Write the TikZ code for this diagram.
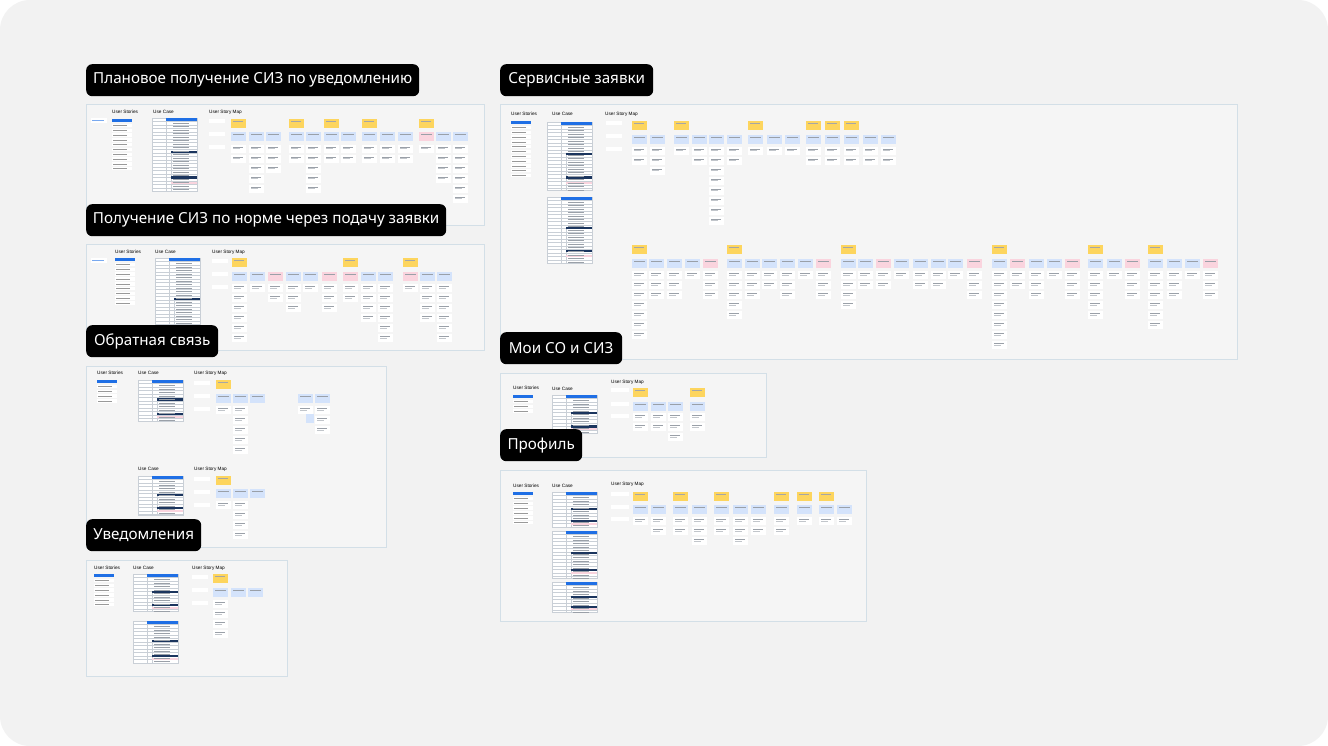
\documentclass[tikz,border=0pt]{standalone}
\usepackage{fontspec}
\newfontfamily\labfont{Noto Sans}
\newfontfamily\hdfont{Liberation Sans}
\definecolor{bg}{HTML}{F2F2F2}
\definecolor{frfill}{HTML}{F5F5F5}
\definecolor{frline}{HTML}{D3DFE7}
\definecolor{cyel}{HTML}{FDD55E}
\definecolor{cb}{HTML}{D4E3FB}
\definecolor{cp}{HTML}{FAD4DE}
\definecolor{tblue}{HTML}{1F6FE5}
\definecolor{tdark}{HTML}{1B355E}
\definecolor{tline}{HTML}{C9CFD6}
\definecolor{txt}{HTML}{9AA0A8}
\tikzset{
  lab/.style={fill=black, text=white, rounded corners=6pt, minimum height=32pt, inner sep=0pt, anchor=north west, font=\labfont\fontsize{15.2}{17}\selectfont},
  frame/.style={draw=frline, fill=frfill, line width=1pt, inner sep=0pt, anchor=north west},
  hd/.style={anchor=west, inner sep=0pt, font=\hdfont\fontsize{4.7}{5}\selectfont, text=black}
}
\newcommand{\yel}[2]{\foreach \x in {#2} {\fill[cyel] (\x,#1) rectangle ++(15,9); \fill[black!35] (\x+1.5,#1+2) rectangle ++(10,0.6);}}
\newcommand{\blu}[2]{\foreach \x/\c in {#2} {\fill[\c] (\x,#1) rectangle ++(15,9); \fill[txt] (\x+1.5,#1+2) rectangle ++(11,0.5);}}
\newcommand{\cards}[2]{\foreach \x/\n in {#2} {\foreach \k in {1,...,\n} {\fill[white] (\x,#1+10*\k-10) rectangle ++(15,8); \fill[txt] (\x+1.5,#1+10*\k-8) rectangle ++(10,0.5); \fill[txt!60] (\x+1.5,#1+10*\k-6.5) rectangle ++(7,0.5);}}}
\newcommand{\rowlab}[2]{\foreach \d in {0,13,26} {\fill[white] (#1,#2+\d) rectangle ++(16,4);}}
\newcommand{\ustor}[3]{\fill[tblue] (#1,#2) rectangle ++(20,3); \foreach \k in {1,...,#3} {\fill[white] (#1,#2+4.8*\k) rectangle ++(20,3.5); \fill[black!40] (#1+1,#2+4.8*\k+1.5) rectangle ++(14,0.5);}}
\newcommand{\uctab}[3]{%
  \begin{scope}[shift={(#1,#2)}]
    \fill[white] (0,0) rectangle (45,#3);
    \foreach \r in {0,3.5,...,#3} {\draw[tline, line width=0.3pt] (0,\r) -- (45,\r);}
    \draw[tline, line width=0.3pt] (14,0) -- (14,#3) (19,0.45*#3) -- (19,#3) (0,0) rectangle (45,#3);
    \fill[tblue] (14,0) rectangle (45,2.6);
    \fill[tdark] (19,0.45*#3) rectangle (45,0.45*#3+2.2);
    \fill[tdark] (19,0.8*#3) rectangle (45,0.8*#3+2.2);
    \fill[cp] (19,0.88*#3) rectangle (45,0.88*#3+2);
    \foreach \r in {5,8.5,...,#3} {\fill[txt] (21,\r) rectangle ++(16,0.4);}
  \end{scope}}
\begin{document}
\begin{tikzpicture}[x=1pt,y=-1pt]
\useasboundingbox (0,0) rectangle (1328,746);
\fill[white] (0,0) rectangle (1328,746);
\fill[bg, rounded corners=30pt] (0,0) rectangle (1328,746);

% ---------- frames ----------
\node[frame, minimum width=398pt, minimum height=121pt] (f1) at (86,104) {};
\node[frame, minimum width=398pt, minimum height=106pt] (f2) at (86,244) {};
\node[frame, minimum width=300pt, minimum height=181pt] (f3) at (86,366) {};
\node[frame, minimum width=201pt, minimum height=116pt] (f4) at (86,560) {};
\node[frame, minimum width=737pt, minimum height=255pt] (f5) at (500,104) {};
\node[frame, minimum width=266pt, minimum height=84pt] (f6) at (500,373) {};
\node[frame, minimum width=366pt, minimum height=151pt] (f7) at (500,470) {};

% ---------- frame 1 ----------
\fill[white] (91,118) rectangle ++(16,5); \fill[tblue!60] (92,120) rectangle ++(12,0.6);
\node[hd] (f1us) at (112,112) {User Stories};
\node[hd] (f1uc) at (153,112) {Use Case};
\node[hd] (f1sm) at (209,112) {User Story Map};
\ustor{112}{119}{10}
\uctab{152}{118}{73}
\rowlab{209}{119}
\yel{119}{231,289,324,362,419}
\blu{132}{231/cb,249/cb,266/cb,289/cb,306/cb,324/cb,341/cb,362/cb,380/cb,398/cb,419/cp,436/cb,453/cb}
\cards{145}{231/2,249/5,266/3,289/2,306/5,324/2,341/2,362/2,380/2,398/2,419/1,436/4,453/6}

% ---------- frame 2 ----------
\fill[white] (91,258) rectangle ++(16,5); \fill[tblue!60] (92,260) rectangle ++(12,0.6);
\node[hd] (f2us) at (115,252) {User Stories};
\node[hd] (f2uc) at (155,252) {Use Case};
\node[hd] (f2sm) at (212,252) {User Story Map};
\ustor{115}{258}{9}
\uctab{155}{258}{88}
\rowlab{212}{259}
\yel{258}{232,343,403}
\blu{272}{232/cb,250/cb,268/cp,286/cb,303/cb,322/cp,343/cp,361/cb,378/cb,403/cp,420/cb,437/cb}
\cards{284}{232/6,250/1,268/2,286/3,303/1,322/3,343/2,361/4,378/6,403/1,420/4,437/6}

% ---------- frame 3 ----------
\node[hd] (f3us) at (97,373) {User Stories};
\node[hd] (f3uc) at (138,373) {Use Case};
\node[hd] (f3sm) at (194,373) {User Story Map};
\ustor{97}{380}{4}
\uctab{138}{380}{41}
\rowlab{194}{381}
\yel{380}{216}
\blu{394}{216/cb,233/cb,250/cb,298/cb,315/cb}
\cards{406}{216/1,233/5,298/1,315/3}
\fill[cb] (306,414) rectangle ++(8,9);
\node[hd] (f3uc2) at (138,469) {Use Case};
\node[hd] (f3sm2) at (194,469) {User Story Map};
\uctab{138}{476}{39}
\rowlab{194}{477}
\yel{476}{216}
\blu{489}{216/cb,233/cb,250/cb}
\cards{501}{216/1,233/4}

% ---------- frame 4 ----------
\node[hd] (f4us) at (94,568) {User Stories};
\node[hd] (f4uc) at (133,568) {Use Case};
\node[hd] (f4sm) at (192,568) {User Story Map};
\ustor{94}{574}{6}
\uctab{133}{574}{37}
\uctab{133}{621}{42}
\rowlab{192}{575}
\yel{574}{213}
\blu{588}{213/cb,231/cb,248/cb}
\cards{600}{213/4}

% ---------- frame 5 ----------
\node[hd] (f5us) at (511,114) {User Stories};
\node[hd] (f5uc) at (552,114) {Use Case};
\node[hd] (f5sm) at (605,114) {User Story Map};
\ustor{511}{121}{11}
\uctab{547}{122}{68}
\uctab{547}{197}{66}
\rowlab{606}{121}
\yel{121}{632,674,748,806,825,844}
\blu{135}{632/cb,650/cb,674/cb,692/cb,709/cb,727/cb,748/cb,767/cb,785/cb,806/cb,825/cb,844/cb,863/cb,881/cb}
\cards{147}{632/2,650/3,674/1,692/2,709/8,727/2,748/1,767/1,785/1,806/2,825/2,844/2,863/2,881/2}
\yel{245}{632,727,841,992,1088,1148}
\blu{259}{632/cb,649/cb,667/cb,685/cb,703/cp,727/cb,745/cb,762/cb,780/cb,798/cb,816/cp,841/cb,858/cb,876/cp,894/cb,913/cb,931/cb,948/cb,967/cp,992/cb,1010/cp,1029/cb,1047/cb,1065/cp,1088/cb,1107/cb,1125/cp,1148/cb,1167/cb,1185/cb,1203/cp}
\cards{271}{632/7,649/3,667/3,685/1,703/3,727/5,745/3,762/2,780/3,798/1,816/3,841/4,858/2,876/2,894/1,913/2,931/2,948/1,967/3,992/8,1010/2,1029/3,1047/1,1065/3,1088/5,1107/1,1125/3,1148/6,1167/3,1185/1,1203/3}

% ---------- frame 6 ----------
\node[hd] (f6us) at (513,388) {User Stories};
\node[hd] (f6uc) at (552,389) {Use Case};
\node[hd] (f6sm) at (611,382) {User Story Map};
\ustor{513}{395}{3}
\uctab{552}{395}{38}
\foreach \yy in {388,402,414} {\fill[white] (611,\yy) rectangle ++(18,4);}
\yel{388}{633,690}
\blu{402}{633/cb,651/cb,668/cb,690/cb}
\cards{413}{633/2,651/2,668/3,690/2}

% ---------- frame 7 ----------
\node[hd] (f7us) at (513,486) {User Stories};
\node[hd] (f7uc) at (552,486) {Use Case};
\node[hd] (f7sm) at (611,484) {User Story Map};
\ustor{513}{492}{6}
\uctab{552}{492}{35}
\uctab{552}{531}{47}
\uctab{552}{582}{30}
\foreach \yy in {492,505,517} {\fill[white] (611,\yy) rectangle ++(18,4);}
\yel{492}{633,673,714,774,797,819}
\blu{505}{633/cb,651/cb,673/cb,692/cb,714/cb,733/cb,751/cb,774/cb,797/cb,819/cb,837/cb}
\cards{517}{633/1,651/2,673/2,692/3,714/2,733/3,751/2,774/2,797/1,819/1,837/1}

% ---------- labels ----------
\node[lab, minimum width=333pt] (l1) at (86,64) {Плановое получение СИЗ по уведомлению};
\node[lab, minimum width=360pt] (l2) at (86,204) {Получение СИЗ по норме через подачу заявки};
\node[lab, minimum width=132pt] (l3) at (86,325) {Обратная связь};
\node[lab, minimum width=115pt] (l4) at (86,519) {Уведомления};
\node[lab, minimum width=153pt] (l5) at (500,64) {Сервисные заявки};
\node[lab, minimum width=122pt] (l6) at (500,332) {Мои СО и СИЗ};
\node[lab, minimum width=82pt] (l7) at (500,429) {Профиль};
\end{tikzpicture}
\end{document}
